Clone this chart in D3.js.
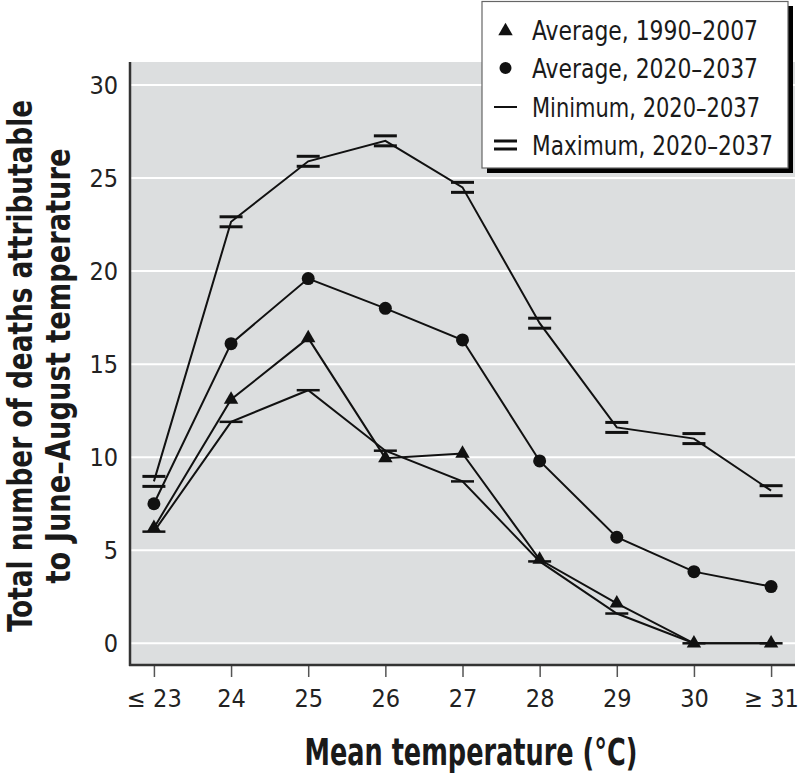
<!DOCTYPE html>
<html><head><meta charset="utf-8">
<script src="https://cdn.jsdelivr.net/npm/d3@7"></script>
<style>body{margin:0;background:#fff} svg{display:block}</style>
</head><body><svg id="c" width="800" height="774"></svg>
<script>
const categories = ["≤ 23","24","25","26","27","28","29","30","≥ 31"];
const avg1990 = [6.2,13.1,16.4,9.95,10.2,4.5,2.15,0,0];
const avg2020 = [7.5,16.1,19.6,18.0,16.3,9.8,5.7,3.85,3.05];
const min2020 = [6.0,11.9,13.6,10.35,8.7,4.4,1.6,0,0];
const max2020 = [8.7,22.65,25.9,27.0,24.5,17.2,11.6,11.0,8.2];
const yTicks = [0,5,10,15,20,25,30];
const legendLabels = ["Average, 1990–2007","Average, 2020–2037","Minimum, 2020–2037","Maximum, 2020–2037"];
const yTitle = ["Total number of deaths attributable","to June–August temperature"];
const xTitle = "Mean temperature (°C)";

const FONT = "'Liberation Sans Narrow','DejaVu Sans Condensed','Liberation Sans',sans-serif";
const svg = d3.select("#c");
const L = 130, R = 795, T = 62, B = 665;

const x = d3.scalePoint().domain(categories).range([L, R]).padding(0.31);
const y = d3.scaleLinear().domain([0, 30]).range([643.3, 85]);

// plot background
svg.append("rect").attr("x", L).attr("y", T).attr("width", R - L).attr("height", B - T).attr("fill", "#dcdedf");

// gridlines
svg.append("g").selectAll("line").data(yTicks).join("line")
  .attr("x1", L).attr("x2", R).attr("y1", d => y(d)).attr("y2", d => y(d))
  .attr("stroke", "#fff").attr("stroke-width", 2);

// y axis
const yAxis = svg.append("g").attr("transform", `translate(${L},0)`)
  .call(d3.axisLeft(y).tickValues(yTicks).tickSize(0).tickPadding(12));
yAxis.select(".domain").remove();
yAxis.selectAll("text").attr("font-family", FONT).attr("font-size", 25).attr("fill", "#222");
svg.append("line").attr("x1", L).attr("x2", L).attr("y1", T).attr("y2", B + 1)
  .attr("stroke", "#333").attr("stroke-width", 2.5);

// x axis
const xAxis = svg.append("g").attr("transform", `translate(0,${B})`)
  .call(d3.axisBottom(x).tickSize(12).tickPadding(12));
xAxis.select(".domain").remove();
xAxis.selectAll(".tick line").attr("stroke", "#555").attr("stroke-width", 1.5);
xAxis.selectAll("text").attr("font-family", FONT).attr("font-size", 25).attr("fill", "#222").attr("dy", "0.71em");
svg.append("line").attr("x1", L - 1).attr("x2", R).attr("y1", B).attr("y2", B)
  .attr("stroke", "#333").attr("stroke-width", 2.5);

// axis titles
svg.append("text").attr("x", 471).attr("y", 765).attr("text-anchor", "middle")
  .attr("font-family", FONT).attr("font-weight", "bold").attr("font-size", 38).attr("fill", "#1a1a1a")
  .attr("textLength", 333).attr("lengthAdjust", "spacingAndGlyphs").text(xTitle);
const yt = svg.append("g").attr("transform", "translate(0,366) rotate(-90)");
yt.append("text").attr("x", 0).attr("y", 32).attr("text-anchor", "middle")
  .attr("font-family", FONT).attr("font-weight", "bold").attr("font-size", 34).attr("fill", "#1a1a1a")
  .attr("textLength", 532).attr("lengthAdjust", "spacingAndGlyphs").text(yTitle[0]);
yt.append("text").attr("x", 0).attr("y", 70).attr("text-anchor", "middle")
  .attr("font-family", FONT).attr("font-weight", "bold").attr("font-size", 34).attr("fill", "#1a1a1a")
  .attr("textLength", 435).attr("lengthAdjust", "spacingAndGlyphs").text(yTitle[1]);

// lines
const line = d3.line().x((d, i) => x(categories[i])).y(d => y(d));
const lineG = svg.append("g").attr("fill", "none").attr("stroke", "#111").attr("stroke-width", 2);
[max2020, avg2020, min2020, avg1990].forEach(s => lineG.append("path").attr("d", line(s)));

// markers
const BW = 23;
// maximum "="
svg.append("g").selectAll("g").data(max2020).join("g")
  .attr("transform", (d, i) => `translate(${x(categories[i])},${y(d)})`)
  .each(function () {
    const g = d3.select(this);
    [-5, 5].forEach(o => g.append("line").attr("x1", -BW / 2).attr("x2", BW / 2).attr("y1", o).attr("y2", o)
      .attr("stroke", "#111").attr("stroke-width", 3));
  });
// minimum "—"
svg.append("g").selectAll("line").data(min2020).join("line")
  .attr("x1", (d, i) => x(categories[i]) - BW / 2).attr("x2", (d, i) => x(categories[i]) + BW / 2)
  .attr("y1", d => y(d)).attr("y2", d => y(d))
  .attr("stroke", "#111").attr("stroke-width", 2.5);
// circles
svg.append("g").selectAll("circle").data(avg2020).join("circle")
  .attr("cx", (d, i) => x(categories[i])).attr("cy", d => y(d)).attr("r", 6.5).attr("fill", "#111");
// triangles
const tri = d3.symbol().type(d3.symbolTriangle).size(90);
svg.append("g").selectAll("path").data(avg1990).join("path")
  .attr("transform", (d, i) => `translate(${x(categories[i])},${y(d)})`)
  .attr("d", tri).attr("fill", "#111");

// legend
const lg = svg.append("g");
lg.append("rect").attr("x", 487).attr("y", 6).attr("width", 306).attr("height", 167).attr("fill", "#000");
lg.append("rect").attr("x", 482).attr("y", 1.5).attr("width", 306).attr("height", 166.5)
  .attr("fill", "#fff").attr("stroke", "#666").attr("stroke-width", 1.2);
const rowY = [30, 68, 107, 145];
const mx = 505.5;
lg.append("path").attr("transform", `translate(${mx},${rowY[0] + 1})`).attr("d", tri).attr("fill", "#111");
lg.append("circle").attr("cx", mx).attr("cy", rowY[1]).attr("r", 6).attr("fill", "#111");
lg.append("line").attr("x1", mx - 11.5).attr("x2", mx + 11.5).attr("y1", rowY[2]).attr("y2", rowY[2])
  .attr("stroke", "#111").attr("stroke-width", 2);
[-4, 4].forEach(o => lg.append("line").attr("x1", mx - 11.5).attr("x2", mx + 11.5)
  .attr("y1", rowY[3] + o).attr("y2", rowY[3] + o).attr("stroke", "#111").attr("stroke-width", 3));
const legW = [226, 226, 228, 241];
lg.selectAll("text").data(legendLabels).join("text")
  .attr("x", 532).attr("y", (d, i) => rowY[i] + 9.5)
  .attr("font-family", FONT).attr("font-size", 26).attr("fill", "#1a1a1a")
  .attr("textLength", (d, i) => legW[i]).attr("lengthAdjust", "spacingAndGlyphs")
  .text(d => d);
</script></body></html>
